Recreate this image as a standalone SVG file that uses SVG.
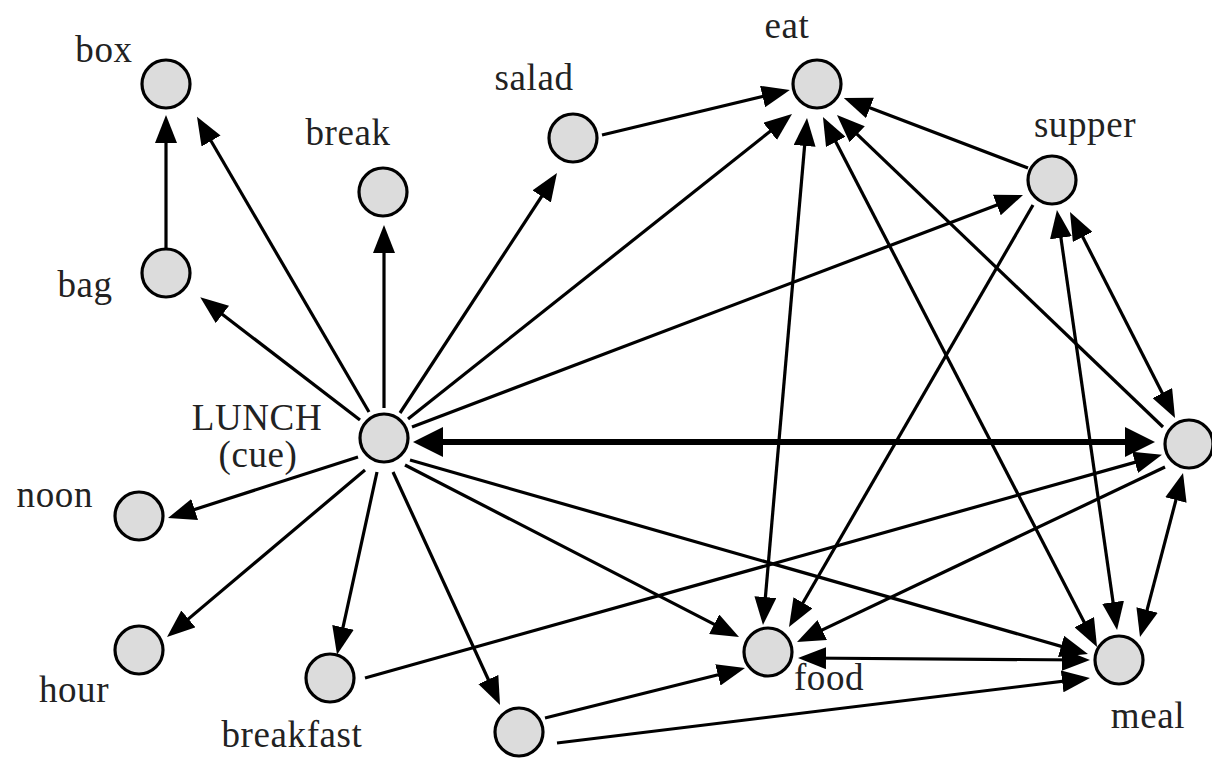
<svg xmlns="http://www.w3.org/2000/svg" width="1212" height="758" viewBox="0 0 1212 758">
<style>
.n{fill:#dcdcdc;stroke:#000;stroke-width:3.2}
.t{font-family:"Liberation Serif","Times New Roman",serif;font-size:37px;letter-spacing:0.6px;fill:#222;text-anchor:middle}
.e{stroke:#000;stroke-width:3.2;fill:none;marker-end:url(#a)}
.b{marker-start:url(#a)}
.k{stroke:#000;stroke-width:6;fill:none;marker-start:url(#ak);marker-end:url(#ak)}
</style>
<defs>
<marker id="a" viewBox="0 0 28 22" refX="22" refY="11" markerWidth="28" markerHeight="22" markerUnits="userSpaceOnUse" orient="auto-start-reverse"><path d="M0,0 L28,11 L0,22 z" fill="#000"/></marker>
<marker id="ak" viewBox="0 0 30 30" refX="24" refY="15" markerWidth="30" markerHeight="30" markerUnits="userSpaceOnUse" orient="auto-start-reverse"><path d="M0,0 L30,15 L0,30 z" fill="#000"/></marker>
</defs>
<rect width="1212" height="758" fill="#fff"/>
<g id="connectors">
<path class="e" d="M166,248 L166,121"/>
<path class="e" d="M369,412 L200,122"/>
<path class="e" d="M384,408 L384,231"/>
<path class="e" d="M360,420 L205,301"/>
<path class="e" d="M400,413 L553.7,178"/>
<path class="e" d="M602,135 L784,91.4"/>
<path class="e" d="M408,419 L787.3,117.7"/>
<path class="e" d="M412,427 L1017.4,197.2"/>
<path class="k" d="M419,442 L1149,442"/>
<path class="e" d="M358,457 L173.7,516.2"/>
<path class="e" d="M365,470 L171.6,633.1"/>
<path class="e" d="M377,472 L338.3,648.8"/>
<path class="e" d="M393,472 L497.5,699.5"/>
<path class="e" d="M405,465 L733.7,634.3"/>
<path class="e" d="M410,460 L1082.2,652.4"/>
<path class="e" d="M365,678 L1156.2,456.4"/>
<path class="e" d="M1165,467 L802.4,639.4"/>
<path class="e" d="M545,718 L739.2,669.5"/>
<path class="e" d="M557,743 L1084,678.7"/>
<path class="e b" d="M804,658 L1084,660"/>
<path class="e" d="M1028,168 L849.4,100.1"/>
<path class="e b" d="M763.5,619 L806.5,124"/>
<path class="e" d="M1033,205 L792,621.8"/>
<path class="e b" d="M825.7,122.3 L1094.3,641.7"/>
<path class="e" d="M1163,427 L841.3,119.1"/>
<path class="e b" d="M1072.7,217.3 L1172.3,412.7"/>
<path class="e b" d="M1057.8,216 L1116.2,624"/>
<path class="e b" d="M1181.5,478.8 L1141.5,631.2"/>
</g>
<g id="box"><circle class="n" cx="166" cy="84" r="24"/><text class="t" x="104" y="62">box</text></g>
<g id="break"><circle class="n" cx="383" cy="192" r="24"/><text class="t" x="348" y="145">break</text></g>
<g id="bag"><circle class="n" cx="166" cy="273" r="24"/><text class="t" x="85" y="297">bag</text></g>
<g id="salad"><circle class="n" cx="573" cy="138" r="24"/><text class="t" x="534" y="90">salad</text></g>
<g id="eat"><circle class="n" cx="817" cy="84" r="24"/><text class="t" x="787" y="38">eat</text></g>
<g id="supper"><circle class="n" cx="1052" cy="180" r="24"/><text class="t" x="1085" y="137">supper</text></g>
<g id="lunch"><circle class="n" cx="384" cy="438" r="24"/><text class="t" x="257" y="430">LUNCH</text><text class="t" x="258" y="467">(cue)</text></g>
<g id="noon"><circle class="n" cx="139" cy="516" r="24"/><text class="t" x="93" y="507" style="text-anchor:end">noon</text></g>
<g id="hour"><circle class="n" cx="139" cy="650" r="24"/><text class="t" x="74" y="702">hour</text></g>
<g id="breakfast"><circle class="n" cx="330" cy="678" r="24"/><text class="t" x="292" y="747">breakfast</text></g>
<g id="unlabeled-bottom"><circle class="n" cx="519" cy="732" r="24"/></g>
<g id="food"><circle class="n" cx="768" cy="652" r="24"/><text class="t" x="829" y="690">food</text></g>
<g id="meal"><circle class="n" cx="1119" cy="660" r="24"/><text class="t" x="1148" y="728">meal</text></g>
<g id="unlabeled-right"><circle class="n" cx="1189" cy="444" r="24"/></g>
</svg>
